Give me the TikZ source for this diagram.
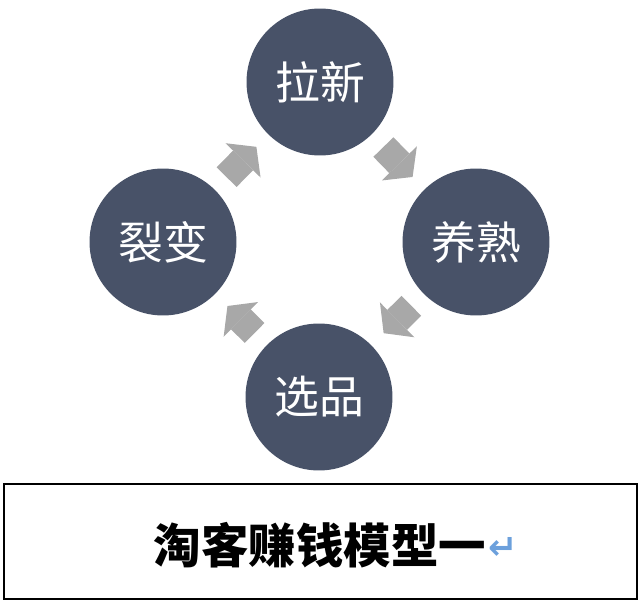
\documentclass[tikz,border=0pt]{standalone}
\usepackage{fontspec}
\newfontfamily\cjk{Noto Sans CJK SC}
\newfontfamily\symb{DejaVu Sans}
\usetikzlibrary{arrows.meta}
\definecolor{slate}{RGB}{72,82,104}
\definecolor{arrowgray}{RGB}{168,168,168}
\definecolor{markblue}{RGB}{108,160,220}

\begin{document}
\begin{tikzpicture}[x=0.02cm, y=-0.02cm,
    stage/.style={circle, fill=slate, minimum size=2.94cm, inner sep=0pt, text=white, font=\cjk\fontsize{25.5}{25.5}\selectfont},
    flow/.style={arrowgray, line width=0.56cm, -{Triangle[length=0.38cm, width=0.98cm, line width=0pt]}, shorten <=0.34cm, shorten >=0.34cm}]
    % pixel grid of the 640 x 601 image, y pointing down
    \useasboundingbox (0,0) rectangle (640,601);
    \node[stage] (lx) at (320,82) {拉新};
    \node[stage] (ys) at (476,242) {养熟};
    \node[stage] (xp) at (319,397) {选品};
    \node[stage] (lb) at (163,242) {裂变};
    \draw[flow] (lx) -- (ys);
    \draw[flow] (ys) -- (xp);
    \draw[flow] (xp) -- (lb);
    \draw[flow] (lb) -- (lx);
    \draw[line width=1.1pt] (4,484) rectangle (637,599);
    \node[font=\cjk\bfseries\fontsize{27}{27}\selectfont, inner sep=0pt] (title) at (320,545) {淘客赚钱模型一};
    \node[anchor=west, inner sep=1pt, text=markblue, font=\symb\bfseries\fontsize{20}{20}\selectfont] (mark) at ([yshift=-0.06cm]title.east) {↵};
\end{tikzpicture}
\end{document}
